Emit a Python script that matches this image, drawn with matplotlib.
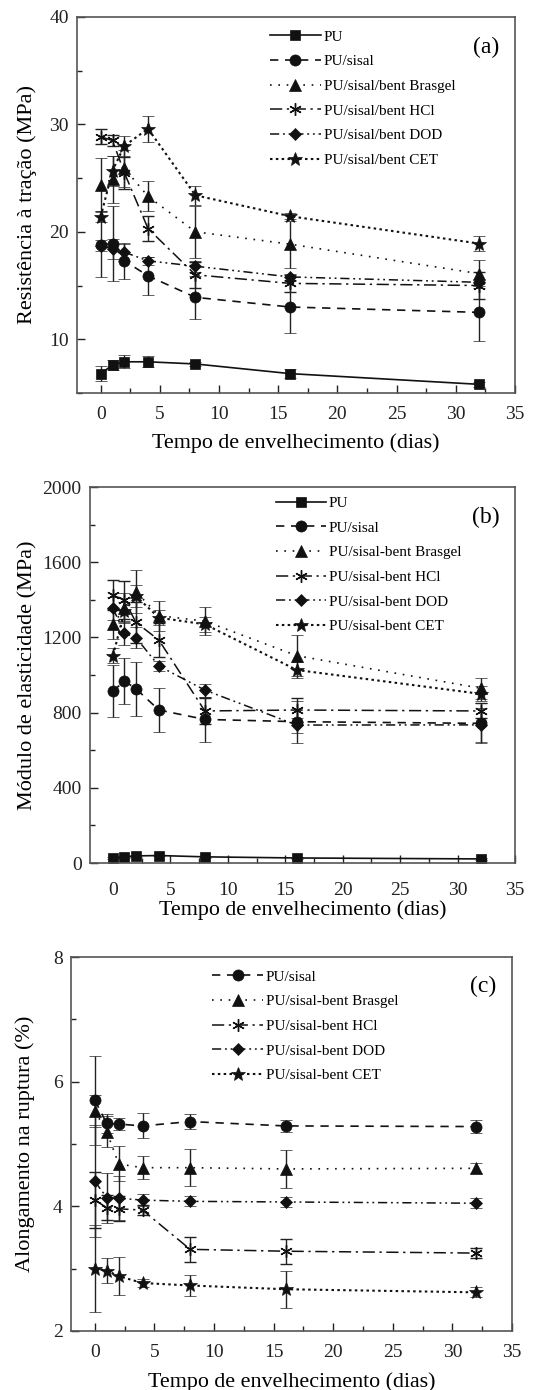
import matplotlib
matplotlib.use("Agg")
import matplotlib.pyplot as plt
from matplotlib.ticker import MultipleLocator
from matplotlib.lines import Line2D

plt.rcParams['font.family'] = ['Liberation Serif', 'DejaVu Serif']

days = [0, 1, 2, 4, 8, 16, 32]

# Panel (a) tensile strength (MPa)
a_labels = ["PU", "PU/sisal", "PU/sisal/bent Brasgel", "PU/sisal/bent HCl",
            "PU/sisal/bent DOD", "PU/sisal/bent CET"]
a_pu = [6.8, 7.6, 7.9, 7.9, 7.7, 6.8, 5.8]
a_pu_err = [0.7, 0.5, 0.6, 0.5, 0.2, 0.4, 0.2]
a_sisal = [18.8, 18.9, 17.3, 15.9, 13.9, 13.0, 12.5]
a_sisal_err = [3.0, 3.5, 1.7, 1.8, 2.0, 2.4, 2.7]
a_bras = [24.4, 24.9, 25.9, 23.3, 20.0, 18.85, 16.1]
a_bras_err = [2.5, 2.2, 1.7, 1.4, 2.4, 2.2, 1.3]
a_hcl = [28.85, 28.5, 25.5, 20.3, 16.0, 15.2, 15.0]
a_hcl_err = [0.7, 0.5, 1.5, 1.2, 1.2, 0.8, 1.3]
a_dod = [18.7, 18.4, 18.1, 17.3, 16.8, 15.8, 15.3]
a_dod_err = [0.5, 0.9, 0.8, 0.4, 0.5, 0.3, 0.3]
a_cet = [21.4, 25.7, 28.0, 29.6, 23.4, 21.45, 18.9]
a_cet_err = [0.5, 1.4, 0.9, 1.2, 0.9, 0.3, 0.7]

# Panel (b) elastic modulus (MPa)
b_labels = ["PU", "PU/sisal", "PU/sisal-bent Brasgel", "PU/sisal-bent HCl",
            "PU/sisal-bent DOD", "PU/sisal-bent CET"]
b_pu = [25, 33, 38, 40, 33, 27, 22]
b_pu_err = [5, 5, 6, 5, 4, 4, 4]
b_sisal = [915, 968, 927, 814, 764, 752, 743]
b_sisal_err = [140, 123, 145, 118, 120, 112, 106]
b_bras = [1270, 1355, 1443, 1316, 1287, 1103, 930]
b_bras_err = [80, 80, 115, 80, 75, 110, 55]
b_hcl = [1425, 1399, 1280, 1186, 809, 814, 809]
b_hcl_err = [80, 100, 110, 90, 70, 65, 40]
b_dod = [1355, 1222, 1199, 1048, 920, 734, 735]
b_dod_err = [60, 60, 55, 25, 35, 40, 90]
b_cet = [1103, 1340, 1420, 1305, 1270, 1027, 900]
b_cet_err = [40, 50, 60, 40, 40, 45, 40]

# Panel (c) elongation at break (%)
c_labels = ["PU/sisal", "PU/sisal-bent Brasgel", "PU/sisal-bent HCl",
            "PU/sisal-bent DOD", "PU/sisal-bent CET"]
c_sisal = [5.70, 5.33, 5.32, 5.29, 5.36, 5.29, 5.28]
c_sisal_err = [0.71, 0.15, 0.1, 0.2, 0.12, 0.1, 0.1]
c_bras = [5.53, 5.20, 4.68, 4.62, 4.62, 4.60, 4.61]
c_bras_err = [0.25, 0.25, 0.28, 0.18, 0.3, 0.3, 0.08]
c_hcl = [4.10, 3.98, 3.96, 3.94, 3.31, 3.28, 3.25]
c_hcl_err = [0.45, 0.2, 0.2, 0.08, 0.2, 0.2, 0.08]
c_dod = [4.40, 4.14, 4.13, 4.10, 4.08, 4.07, 4.05]
c_dod_err = [0.9, 0.4, 0.35, 0.1, 0.08, 0.08, 0.08]
c_cet = [3.0, 2.97, 2.88, 2.77, 2.73, 2.67, 2.62]
c_cet_err = [0.7, 0.2, 0.3, 0.07, 0.17, 0.3, 0.08]

styles = {
    "pu": dict(marker='s', linestyle='-', lw=1.2),
    "sisal": dict(marker='o', linestyle=(0, (5, 4)), lw=1.2),
    "bras": dict(marker='^', linestyle=(0, (1, 4)), lw=1.2),
    "hcl": dict(marker=(6, 2, 0), linestyle=(0, (8, 3, 1.5, 3)), lw=1.1),
    "dod": dict(marker='D', linestyle=(0, (6, 2.5, 1.2, 2.5, 1.2, 2.5)), lw=1.1),
    "cet": dict(marker='*', linestyle=(0, (1.2, 1.6)), lw=1.5),
}
msize = {"pu": 7, "sisal": 8, "bras": 8, "hcl": 9, "dod": 6.5, "cet": 10.5}

fig = plt.figure(figsize=(5.37, 13.9), dpi=100)

def draw(ax, series, labels, ylim, ymaj, ymin, tag, legend_anchor,
         xpad, ylab, ylab_x, xlab_y):
    handles = []
    for (key, y, e), lab in zip(series, labels):
        st = styles[key]
        mew = 1.0 if key == 'hcl' else 0.5
        ax.errorbar(days, y, yerr=e, color='#111111', ecolor='#222222',
                    elinewidth=1.0, capsize=4, capthick=1.0,
                    marker=st['marker'], markersize=msize[key],
                    markeredgewidth=mew,
                    linestyle=st['linestyle'], lw=st['lw'])
        handles.append(Line2D([], [], color='#111111', marker=st['marker'],
                              markersize=msize[key], markeredgewidth=mew,
                              linestyle=st['linestyle'], lw=st['lw'], label=lab))
    ax.set_xlim(-2, 35)
    ax.set_ylim(*ylim)
    ax.xaxis.set_major_locator(MultipleLocator(5))
    ax.xaxis.set_minor_locator(MultipleLocator(2.5))
    ax.yaxis.set_major_locator(MultipleLocator(ymaj))
    ax.yaxis.set_minor_locator(MultipleLocator(ymin))
    ax.tick_params(which='both', direction='in', top=False, right=False,
                   labelsize=14, colors='#222222')
    ax.tick_params(which='major', length=6, width=1)
    ax.tick_params(which='minor', length=3.5, width=1)
    ax.tick_params(axis='x', pad=xpad)
    ax.tick_params(axis='y', pad=6)
    for s in ax.spines.values():
        s.set_color('#555555')
        s.set_linewidth(1.2)
    ax.set_xlabel("Tempo de envelhecimento (dias)", fontsize=15.8)
    ax.xaxis.set_label_coords(0.5, xlab_y)
    ax.set_ylabel(ylab, fontsize=16)
    ax.yaxis.set_label_coords(ylab_x, 0.5)
    ax.legend(handles=handles, loc='upper left', bbox_to_anchor=legend_anchor,
              frameon=False, fontsize=11, handlelength=3.3, handletextpad=0.2,
              labelspacing=0.72, borderaxespad=0.2)
    ax.text(0.965, 0.92, tag, transform=ax.transAxes, ha='right', va='center',
            fontsize=17)

ax1 = fig.add_axes([0.1434, 0.7173, 0.8156, 0.2705])
draw(ax1, [("pu", a_pu, a_pu_err), ("sisal", a_sisal, a_sisal_err),
           ("bras", a_bras, a_bras_err), ("hcl", a_hcl, a_hcl_err),
           ("dod", a_dod, a_dod_err), ("cet", a_cet, a_cet_err)],
     a_labels, (5, 40), 10, 5, "(a)", (0.42, 0.99), 9.5,
     "Resistência à tração (MPa)", -0.092, -0.106)

ax2 = fig.add_axes([0.1676, 0.3791, 0.7914, 0.2705])
draw(ax2, [("pu", b_pu, b_pu_err), ("sisal", b_sisal, b_sisal_err),
           ("bras", b_bras, b_bras_err), ("hcl", b_hcl, b_hcl_err),
           ("dod", b_dod, b_dod_err), ("cet", b_cet, b_cet_err)],
     b_labels, (0, 2000), 400, 200, "(b)", (0.415, 1.0), 14,
     "Módulo de elasticidade (MPa)", -0.124, -0.098)

ax3 = fig.add_axes([0.1322, 0.04245, 0.8212, 0.26905])
draw(ax3, [("sisal", c_sisal, c_sisal_err), ("bras", c_bras, c_bras_err),
           ("hcl", c_hcl, c_hcl_err), ("dod", c_dod, c_dod_err),
           ("cet", c_cet, c_cet_err)],
     c_labels, (2, 8), 2, 1, "(c)", (0.30, 0.99), 9.5,
     "Alongamento na ruptura (%)", -0.082, -0.110)

fig.savefig("out.png", dpi=100)
